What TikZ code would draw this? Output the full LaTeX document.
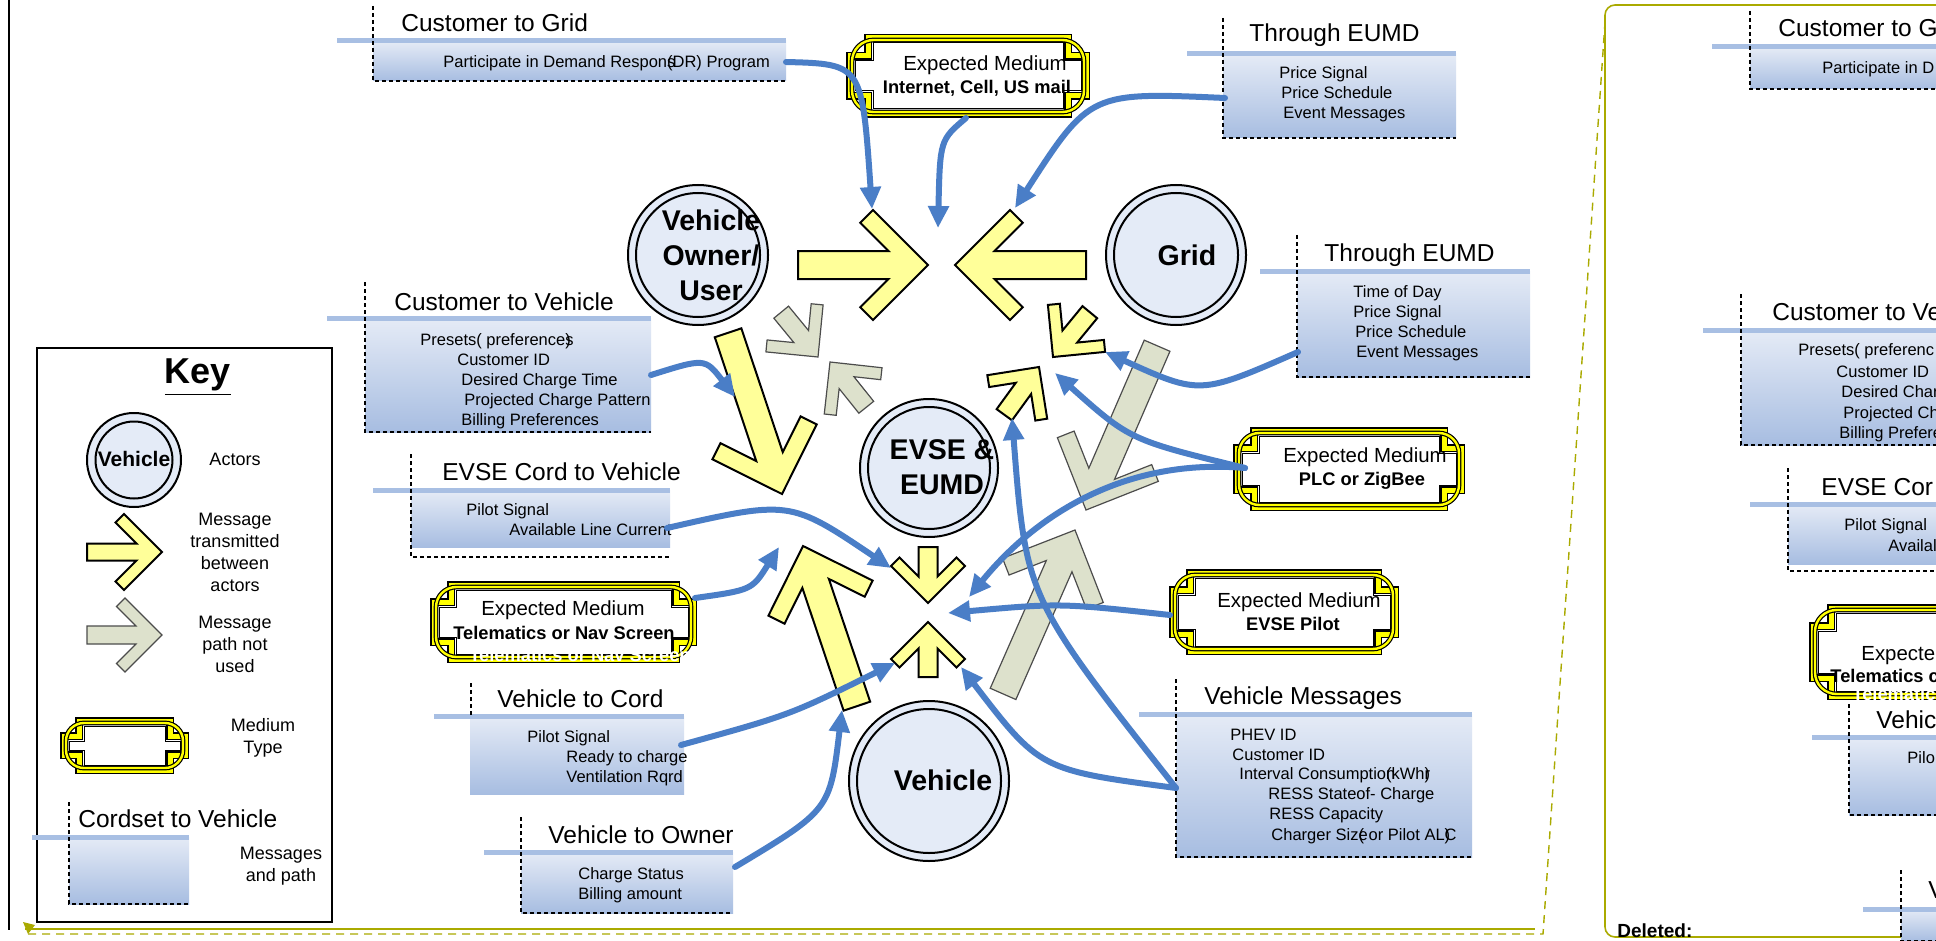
\documentclass[tikz,border=0pt]{standalone}
\usepackage{fontspec}
\setmainfont{Liberation Sans}
\usetikzlibrary{arrows.meta,calc}
\definecolor{blu}{RGB}{74,126,199}
\definecolor{ylw}{RGB}{255,255,153}
\definecolor{gry}{RGB}{221,225,204}
\definecolor{actfill}{RGB}{228,235,247}
\definecolor{barc}{RGB}{168,191,227}
\definecolor{gtop}{RGB}{229,235,246}
\definecolor{gbot}{RGB}{167,189,225}
\definecolor{olv}{RGB}{170,170,0}
\definecolor{frY}{RGB}{255,255,0}
\tikzset{
 ttl/.style={font=\fontsize{12.25}{14}\selectfont, anchor=base west, inner sep=0pt},
 bdy/.style={font=\fontsize{8.25}{10}\selectfont, anchor=base west, inner sep=0pt},
 keyt/.style={font=\fontsize{9}{11}\selectfont, align=center, inner sep=0pt},
 act/.style={font=\bfseries\fontsize{14.25}{17.5}\selectfont, align=center, inner sep=0pt},
 medt/.style={font=\fontsize{10.2}{12}\selectfont, inner sep=0pt},
 medb/.style={font=\bfseries\fontsize{9.15}{11}\selectfont, inner sep=0pt},
 conn/.style={draw=blu, line width=3pt, line cap=round, -{Triangle[length=11pt,width=10pt]}},
 yel/.style={fill=ylw, draw=black, line width=1pt, line join=miter},
 gra/.style={fill=gry, draw=black!70, line width=0.6pt, line join=miter},
 dsh/.style={dash pattern=on 2pt off 1.5pt, line width=0.7pt},
 actc/.style={fill=actfill, draw=black, line width=1pt},
 actin/.style={draw=black, line width=1pt},
}
% chevron arrow: tip x, tip y, angle, length, shaft half width, head half size, arm thickness, style
\newcommand{\chev}[8]{%
\begin{scope}[shift={(#1,#2)},rotate=#3]
\draw[#8] (0,0) -- (-#6,-#6) -- ({-#6-0.7071*#7},{-#6+0.7071*#7}) -- ({-#5-1.4142*#7},-#5) -- (-#4,-#5) -- (-#4,#5) -- ({-#5-1.4142*#7},#5) -- ({-#6-0.7071*#7},{#6-0.7071*#7}) -- (-#6,#6) -- cycle;
\end{scope}}
% notched cross outline: style, x0, y0, x1, y1, c
\newcommand{\crossdraw}[6]{%
\draw[#1] ({#2+#6},#3) -- ({#4-#6},#3) -- ({#4-#6},{#3+#6}) -- (#4,{#3+#6}) -- (#4,{#5-#6}) -- ({#4-#6},{#5-#6}) -- ({#4-#6},#5) -- ({#2+#6},#5) -- ({#2+#6},{#5-#6}) -- (#2,{#5-#6}) -- (#2,{#3+#6}) -- ({#2+#6},{#3+#6}) -- cycle;}
% medium frame: x0, y0, x1, y1, c
\newcommand{\medframe}[5]{%
\crossdraw{draw=black,line width=4pt,line join=miter}{#1+4}{#2+4}{#3-4}{#4-4}{#5}
\crossdraw{draw=frY,line width=2.5pt,line join=miter}{#1+4}{#2+4}{#3-4}{#4-4}{#5}
\draw[black,line width=2.4pt,rounded corners=0.6*#5pt] ({#1+6},{#2+6}) rectangle ({#3-6},{#4-6});
\draw[frY,line width=1.2pt,rounded corners=0.6*#5pt] ({#1+6},{#2+6}) rectangle ({#3-6},{#4-6});
\crossdraw{fill=white,draw=black,line width=0.5pt}{#1+9}{#2+9}{#3-9}{#4-9}{#5}}
% message box: left, bar y, right, bottom, bar left, dashed top, dashed bottom
\newcommand{\msgbox}[7]{%
\shade[top color=gtop,bottom color=gbot] (#1,#2) rectangle (#3,#4);
\draw[barc,line width=2.5pt] (#5,#2) -- (#3,#2);
\draw[dsh] (#1,#6) -- (#1,#7) -- (#3,#7);}
\begin{document}
\begin{tikzpicture}[x=0.5pt,y=-0.5pt]
\useasboundingbox (0,0) rectangle (1936,941);
\clip (0,0) rectangle (1936,941);
\fill[white] (0,0) rectangle (1936,941);

% ---- page decorations
\draw[black,line width=1pt] (9,0) -- (9,930);
\draw[olv,line width=1.2pt] (25,929) -- (1535,929);
\draw[olv,line width=0.7pt,dash pattern=on 4pt off 3pt] (28,934) -- (1543,934) -- (1605,22);
\fill[olv] (23,922) -- (35,925) -- (28,934) -- cycle;
\draw[olv,line width=0.8pt,rounded corners=5pt] (1605,5) rectangle (1980,937);

% ---- right panel (partially visible copy)
\msgbox{1750}{47}{1990}{89}{1712}{11}{89}
\node[ttl] (rp1) at (1778,37) {Customer to G};
\node[bdy] (rp2) at (1822,74) {Participate in D};
\msgbox{1741}{330}{1990}{445}{1703}{294}{445}
\node[ttl] (rp3) at (1772,320) {Customer to Ve};
\node[bdy] (rp4) at (1798,355) {Presets( preferenc};
\node[bdy] (rp5) at (1836,377) {Customer ID};
\node[bdy] (rp6) at (1841,397) {Desired Char};
\node[bdy] (rp7) at (1843,418) {Projected Ch};
\node[bdy] (rp8) at (1839,438) {Billing Prefere};
\msgbox{1788}{504}{1990}{564}{1750}{468}{571}
\node[ttl] (rp9) at (1821,495) {EVSE Cor};
\node[bdy] (rp10) at (1844,530) {Pilot Signal};
\node[bdy] (rp11) at (1888,551) {Availal};
\medframe{1809}{604}{2074}{700}{18}
\node[medt,anchor=base west] (rp12) at (1861,660) {Expecte};
\node[medb,anchor=base west] (rp13) at (1830,682) {Telematics c};
\node[medb,anchor=base west,text=white] (rp14) at (1852,700) {Telematics or Nav Scre};
\msgbox{1849}{737}{1990}{815}{1812}{704}{815}
\node[ttl] (rp15) at (1876,728) {Vehic};
\node[bdy] (rp16) at (1907,763) {Pilo};
\msgbox{1901}{909}{1990}{941}{1863}{870}{941}
\node[ttl] (rp17) at (1928,898) {V};
\node[font=\bfseries\fontsize{9.5}{11}\selectfont,anchor=base west,inner sep=0pt] (del) at (1617,937) {Deleted:};

% ---- message boxes
\msgbox{373}{41}{786}{81}{337}{6}{81}
\node[ttl] (t1) at (401,32) {Customer to Grid};
\node[bdy] (b1) at (443,68) {Participate in Demand Respon\rlap{s}(DR) Program};

\msgbox{1223}{54}{1456}{138}{1187}{18}{138}
\node[ttl] (t2) at (1249,42) {Through EUMD};
\node[bdy] (b2a) at (1279,79) {Price Signal};
\node[bdy] (b2b) at (1281,99) {Price Schedule};
\node[bdy] (b2c) at (1283,119) {Event Messages};

\msgbox{365}{318}{651}{432}{327}{282}{432}
\node[ttl] (t3) at (394,310) {Customer to Vehicle};
\node[bdy] (b3a) at (420,345) {Presets( preference\rlap{s})};
\node[bdy] (b3b) at (457,365) {Customer ID};
\node[bdy] (b3c) at (461,385) {Desired Charge Time};
\node[bdy] (b3d) at (464,405) {Projected Charge Pattern};
\node[bdy] (b3e) at (461,425) {Billing Preferences};

\msgbox{411}{490}{670}{547}{373}{454}{557}
\node[ttl] (t4) at (442,480) {EVSE Cord to Vehicle};
\node[bdy] (b4a) at (466,515) {Pilot Signal};
\node[bdy] (b4b) at (509,535) {Available Line Current};

\shade[top color=gtop,bottom color=gbot] (470,716) rectangle (684,794);
\draw[barc,line width=2.5pt] (434,716) -- (684,716);
\draw[dsh] (471,683) -- (471,716);
\node[ttl] (t5) at (497,707) {Vehicle to Cord};
\node[bdy] (b5a) at (527,742) {Pilot Signal};
\node[bdy] (b5b) at (566,762) {Ready to charge};
\node[bdy] (b5c) at (566,782) {Ventilation Rqrd};

\msgbox{521}{852}{733}{913}{484}{817}{913}
\node[ttl] (t6) at (548,843) {Vehicle to Owner};
\node[bdy] (b6a) at (578,879) {Charge Status};
\node[bdy] (b6b) at (578,899) {Billing amount};

\msgbox{1297}{271}{1530}{377}{1260}{235}{377}
\node[ttl] (t7) at (1324,261) {Through EUMD};
\node[bdy] (b7a) at (1353,297) {Time of Day};
\node[bdy] (b7b) at (1353,317) {Price Signal};
\node[bdy] (b7c) at (1355,337) {Price Schedule};
\node[bdy] (b7d) at (1356,357) {Event Messages};

\msgbox{1176}{714}{1472}{857}{1139}{679}{857}
\node[ttl] (t8) at (1204,704) {Vehicle Messages};
\node[bdy] (b8a) at (1230,740) {PHEV ID};
\node[bdy] (b8b) at (1232,760) {Customer ID};
\node[bdy] (b8c) at (1239,779) {Interval Consumptio\rlap{n}(kWh\rlap{r})};
\node[bdy] (b8d) at (1268,799) {RESS Stateof- Charge};
\node[bdy] (b8e) at (1269,819) {RESS Capacity};
\node[bdy] (b8f) at (1271,840) {Charger Siz\rlap{e}( or Pilot AL\rlap{C})};

% ---- medium frames
\medframe{846}{34}{1090}{118}{18}
\node[medt] (m1a) at (985,65) {Expected Medium};
\node[medb] (m1b) at (977,88) {Internet, Cell, US mail};
\medframe{430}{581}{697}{663}{17}
\node[medt] (m2a) at (563,610) {Expected Medium};
\node[medb] (m2b) at (564,633) {Telematics or Nav Screen};
\node[medb,text=white] (m2c) at (580,655) {Telematics or Nav Screen};
\medframe{1233}{427}{1465}{511}{17}
\node[medt] (m3a) at (1365,457) {Expected Medium};
\node[medb] (m3b) at (1362,481) {PLC or ZigBee};
\medframe{1169}{569}{1399}{655}{17}
\node[medt] (m4a) at (1299,602) {Expected Medium};
\node[medb] (m4b) at (1293,624) {EVSE Pilot};

% ---- chevron arrows
\chev{818}{357}{-50.6}{58}{9.5}{37}{12}{gra}
\chev{830}{362}{128.7}{58}{9.5}{37}{12}{gra}
\chev{1086}{510}{-113.4}{179}{14}{55}{18}{gra}
\chev{1075}{530}{66.3}{179}{14}{55}{18}{gra}
\chev{928}{265}{0}{130}{14}{55}{18}{yel}
\chev{955}{265}{180}{131}{14}{55}{18}{yel}
\chev{782}{494}{-71.5}{170}{14}{55}{18}{yel}
\chev{803}{546}{108.6}{169}{14}{55}{18}{yel}
\chev{928}{603}{-90}{56}{9.5}{37}{12}{yel}
\chev{928}{622}{90}{55}{9.5}{37}{12}{yel}
\chev{1039}{367}{54}{59}{9.5}{37}{12}{yel}
\chev{1053}{357}{-129.4}{58}{9.5}{37}{12}{yel}

% ---- actors
\draw[actc] (698,255) circle[radius=35pt];
\draw[actin] (698,255) circle[radius=31pt];
\node[act] (owner) at (711,255) {Vehicle\\Owner/\\User};
\draw[actc] (1176,255) circle[radius=35pt];
\draw[actin] (1176,255) circle[radius=31pt];
\node[act] (grid) at (1187,255) {Grid};
\draw[actc] (929,468) circle[radius=34.5pt];
\draw[actin] (929,468) circle[radius=30.5pt];
\node[act] (evse) at (942,467) {EVSE \&\\EUMD};
\draw[actc] (929,781) circle[radius=40pt];
\draw[actin] (929,781) circle[radius=36pt];
\node[act] (veh) at (943,780) {Vehicle};

% ---- connectors
\coordinate (c1s) at (786,62); \coordinate (c1e) at (872,209);
\coordinate (c2s) at (966,118); \coordinate (c2e) at (938,228);
\coordinate (c3s) at (1225,98); \coordinate (c3e) at (1015,208);
\coordinate (c4s) at (651,375); \coordinate (c4e) at (735,397);
\coordinate (c5s) at (667,528); \coordinate (c5e) at (891,568);
\coordinate (c6s) at (695,598); \coordinate (c6e) at (779,547);
\coordinate (c7s) at (681,745); \coordinate (c7e) at (895,663);
\coordinate (c8s) at (735,867); \coordinate (c8e) at (842,710);
\coordinate (c9s) at (1298,352); \coordinate (c9e) at (1105,352);
\coordinate (plc) at (1245,468); \coordinate (c10e) at (1055,373); \coordinate (c11e) at (969,597);
\coordinate (pil) at (1170,615); \coordinate (c12e) at (948,613);
\coordinate (vm) at (1176,788); \coordinate (c13e) at (961,667); \coordinate (c14e) at (1012,418);
\draw[conn] (c1s) .. controls (862,64) .. (c1e);
\draw[conn] (c2s) .. controls (940,140) .. (c2e);
\draw[conn] (c3s) .. controls (1090,92) .. (c3e);
\draw[conn] (c4s) .. controls (705,358) .. (c4e);
\draw[conn] (c5s) .. controls (790,500) .. (c5e);
\draw[conn] (c6s) .. controls (752,590) .. (c6e);
\draw[conn] (c7s) .. controls (790,715) .. (c7e);
\draw[conn] (c8s) .. controls (830,810) .. (c8e);
\draw[conn] (c9s) .. controls (1200,395) .. (c9e);
\draw[conn] (plc) .. controls (1130,440) .. (c10e);
\draw[conn] (plc) .. controls (1130,458) and (1040,510) .. (c11e);
\draw[conn] (pil) .. controls (1060,603) .. (c12e);
\draw[conn] (vm) .. controls (1040,770) .. (c13e);
\draw[conn] (vm) .. controls (1026,598) .. (c14e);

% ---- key
\draw[black,line width=0.8pt] (37,348) rectangle (332,922);
\node[font=\bfseries\fontsize{18}{20}\selectfont,inner sep=0pt] (key) at (198,377) {\underline{Key}};
\draw[actc] (134,460) circle[radius=23.5pt];
\draw[actin] (134,460) circle[radius=19.25pt];
\node[font=\bfseries\fontsize{10.5}{12}\selectfont,inner sep=0pt] (kveh) at (134,459) {Vehicle};
\node[keyt] (kact) at (235,459) {Actors};
\chev{162}{552}{0}{75}{8.5}{38}{12}{yel}
\node[keyt] (kmsg) at (235,552) {Message\\transmitted\\between\\actors};
\chev{162}{635}{0}{75}{9}{37}{12}{gra}
\node[keyt] (knot) at (235,644) {Message\\path not\\used};
\medframe{60}{717}{189}{774}{15}
\node[keyt] (kmed) at (263,738) {Medium\\Type};
\msgbox{69}{837}{189}{904}{32}{802}{904}
\node[ttl] (kcord) at (78,827) {Cordset to Vehicle};
\node[keyt] (kpath) at (281,866) {Messages\\and path};
\end{tikzpicture}
\end{document}
